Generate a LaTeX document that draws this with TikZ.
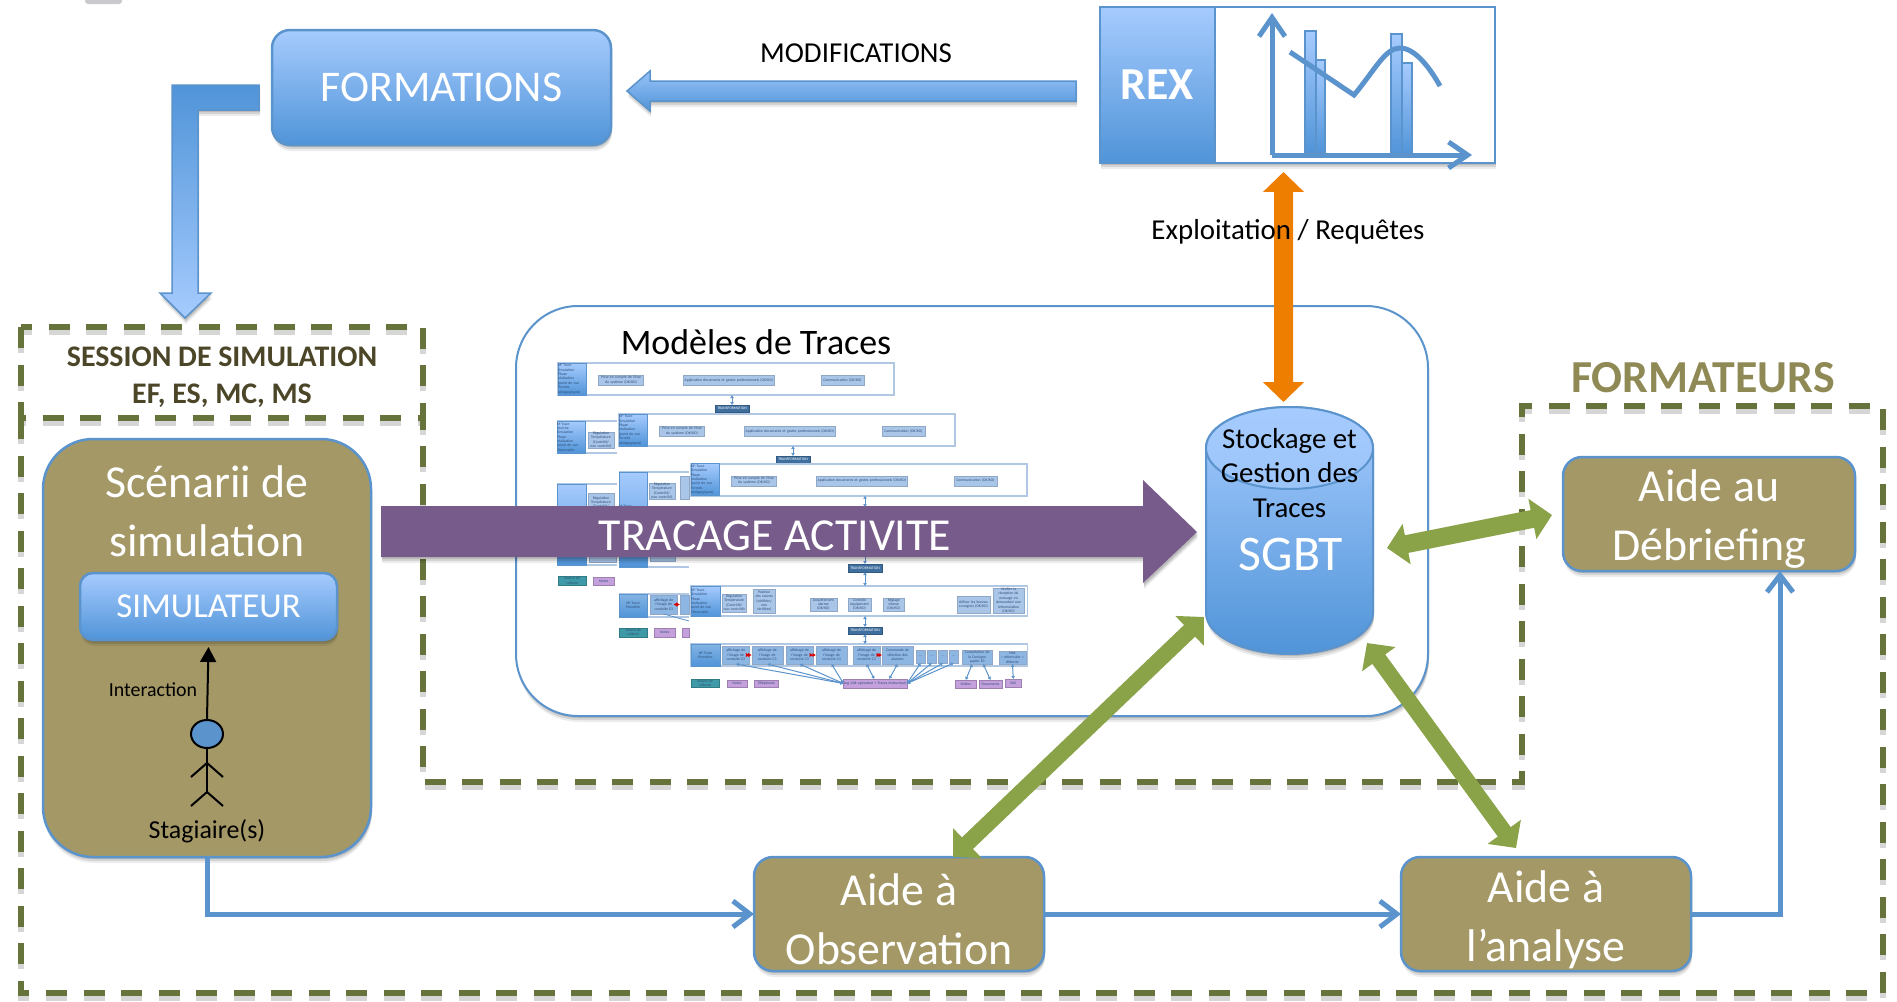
\documentclass[tikz,border=0pt]{standalone}
\usepackage{fontspec}
\setmainfont{Carlito}
\usetikzlibrary{arrows.meta,shadows,calc,shapes.geometric}
\newdimen\ux \ux=0.02cm
\newcommand{\fpx}[2]{\fontsize{\fpeval{#1*0.5669}pt}{\fpeval{#2*0.5669}pt}\selectfont}
\definecolor{bluehi}{HTML}{A6CBFE}
\definecolor{bluelo}{HTML}{5094D8}
\definecolor{blueline}{HTML}{5B93CC}
\definecolor{olive}{HTML}{A49866}
\definecolor{dashgreen}{HTML}{66733A}
\definecolor{arrowgreen}{HTML}{8AA349}
\definecolor{orangearrow}{HTML}{EE7E00}
\definecolor{purplearrow}{HTML}{775B8A}
\definecolor{sessiontext}{HTML}{4C4629}
\definecolor{formateur}{HTML}{8F8A55}
\definecolor{miniblue}{HTML}{A9C5E8}
\definecolor{miniframecol}{HTML}{B0C8E4}
\definecolor{minidark}{HTML}{3F6F9F}
\definecolor{miniteal}{HTML}{3D9AA6}
\definecolor{minipurple}{HTML}{C4A0DC}
\definecolor{minitext}{HTML}{2F4F78}
\tikzset{
  softshadow/.style={
    general shadow={shadow xshift=1\ux,shadow yshift=-2\ux,fill=black,opacity=.12},
    general shadow={shadow xshift=1\ux,shadow yshift=-4\ux,fill=black,opacity=.10},
    general shadow={shadow xshift=1\ux,shadow yshift=-6\ux,fill=black,opacity=.07}},
  basebox/.style={inner sep=0pt,outer sep=0pt,align=center,text=white,line width=2.5\ux,draw=blueline},
  bluebox/.style={basebox,softshadow,shade,top color=bluehi,bottom color=bluelo},
  olivebox/.style={basebox,softshadow,fill=olive},
  lighttext/.style={inner sep=0pt,outer sep=0pt,align=center,text=white},
  darktext/.style={inner sep=0pt,outer sep=0pt,align=center,text=black},
  dashbox/.style={line width=5.5\ux,draw=dashgreen,dash pattern=on 21\ux off 16.5\ux},
  dashshadow/.style={line width=5.5\ux,draw=black,opacity=.16,dash pattern=on 21\ux off 16.5\ux,yshift=-5\ux},
  greenarrow/.style={line width=16\ux,draw=arrowgreen,{Triangle[length=0.4cm,width=0.8cm]}-{Triangle[length=0.4cm,width=0.8cm]}},
  flow/.style={line width=5\ux,draw=blueline,-{Straight Barb[length=0.34cm,width=0.52cm]}},
  gradarrow/.style={draw=blueline,line width=1.5\ux,softshadow,shade},
  minibase/.style={inner sep=0pt,outer sep=0pt,align=center,text=minitext,font={\fpx{3.8}{4.4}}},
  miniframe/.style={minibase,draw=miniframecol,fill=white,line width=1.6\ux},
  minibox/.style={minibase,fill=miniblue,draw=miniblue!85!black,line width=.3\ux},
  minicell/.style={minibase,align=left,shade,top color=bluehi,bottom color=bluelo,draw=blueline,line width=.5\ux},
  minicellb/.style={minibase,shade,top color=bluelo!70,bottom color=bluelo,draw=blueline,line width=.5\ux},
  minidarkbox/.style={minibase,fill=minidark,draw=minidark!80!black,line width=.5\ux},
  minitealbox/.style={minibase,fill=miniteal,draw=miniteal!80!black,line width=.4\ux},
  minipurplebox/.style={minibase,fill=minipurple,draw=minipurple!80!black,line width=.4\ux},
  minilink/.style={draw=blueline,line width=1\ux,{Latex[length=0.06cm,width=0.08cm]}-{Latex[length=0.06cm,width=0.08cm]}},
  minired/.style={draw=red!85!black,line width=1\ux,{Latex[length=0.07cm,width=0.09cm]}-{Latex[length=0.07cm,width=0.09cm]}},
  stick/.style={draw=black,line width=2\ux}
}
% \mini{name}{style}{x1}{y1}{x2}{y2}{text}
\newcommand{\mini}[7]{%
  \pgfmathsetmacro\miniw{(#5)-(#3)}%
  \pgfmathsetmacro\minih{(#6)-(#4)}%
  \node[#2,minimum width=\miniw\ux,minimum height=\minih\ux,text width=\miniw\ux] (#1) at ({((#3)+(#5))/2},{((#4)+(#6))/2}) {#7};}
\newcommand{\miniopen}[5]{%
  \mini{#1}{miniframe,draw=none}{#2}{#3}{#4}{#5}{}
  \draw[draw=miniframecol,line width=1.6\ux] (#1.north west) -- (#1.north east) (#1.south west) -- (#1.south east);}
\newcommand{\celltext}{NF-Trace\\Simulation\\Phase\\réalisation\\(point de vue\\Formés\\pédagogiques)}
\newcommand{\minilayer}[3]{%
  \mini{#1f}{miniframe}{558+#2}{363+#3}{894+#2}{395+#3}{}
  \mini{#1c}{minicell}{558+#2}{363+#3}{586.5+#2}{395+#3}{\celltext}
  \mini{#1a}{minibox}{598.6+#2}{375+#3}{643.4+#2}{385+#3}{Prise en compte de l'état\\du système (OK/KO)}
  \mini{#1b}{minibox}{683+#2}{375+#3}{774.5+#2}{385+#3}{Application documents et gestes professionnels (OK/KO)}
  \mini{#1d}{minibox}{820.7+#2}{375+#3}{864+#2}{385+#3}{Communication (OK/KO)}}
\begin{document}
\begin{tikzpicture}[x=0.02cm,y=-0.02cm]
\useasboundingbox (0,0) rectangle (1897,1001);
\fill[white] (0,0) rectangle (1897,1001);
\begin{scope}
\clip (0,0) rectangle (1897,1001);
\fill[rounded corners=3\ux,fill=black!5!blue!5!gray!40] (85,-6) rectangle (122,4);
\end{scope}

% dashed frames
\draw[dashshadow] (21,327) rectangle (423,418);
\draw[dashshadow] (21,418) -- (21,993) -- (1883,993) -- (1883,406) -- (1522,406) -- (1522,782) -- (423,782) -- (423,418);
\draw[dashbox] (21,327) rectangle (423,418);
\draw[dashbox] (21,418) -- (21,993) -- (1883,993) -- (1883,406) -- (1522,406) -- (1522,782) -- (423,782) -- (423,418);
\node[inner sep=0pt,outer sep=0pt,align=center,text=sessiontext,font={\fpx{30}{37}\bfseries}] (session) at (222,377.5) {SESSION DE SIMULATION\\EF, ES, MC, MS};
\node[inner sep=0pt,outer sep=0pt,text=formateur,font={\fpx{46}{50}\bfseries}] (formateurs) at (1703,378) {FORMATEURS};

% panel of trace models
\node[basebox,softshadow,fill=white,line width=2\ux,rounded corners=62\ux,minimum width=912\ux,minimum height=410\ux] (panel) at (972,511) {};
\node[darktext,font={\fpx{36}{40}}] (modeles) at (756,342) {Modèles de Traces};

% miniature diagram
\minilayer{la}{0}{0}
\mini{ta}{minidarkbox,text=white}{715}{405}{749}{412}{TRANSFORMATION}
\draw[minilink] (laf.south -| ta.north) -- (ta.north);
% left partial blocks
\miniopen{pa}{557}{421}{617}{453}
\mini{pac}{minicell}{557}{421}{585.5}{453}{M-Trace\\séniche\\Simulation\\Phase\\réalisation\\(point de vue\\Observable}
\mini{pab}{minibox}{588}{432}{614}{448}{Régulation\\Température\\(Contrôlé/\\non contrôlé)}
\miniopen{pb}{557}{484}{617}{565}
\mini{pbc}{minicell}{557}{484}{586}{565}{NF-Trace\\Simulation\\Phase\\réalisation}
\mini{pbb}{minibox}{588}{493}{614}{512}{Régulation\\Température\\(Contrôlé/}
\mini{pbd}{minibox}{589}{545}{616}{562}{}
\mini{pbt}{minitealbox}{558}{576}{586.5}{585}{Source de\\collecte}
\mini{pbn}{minipurplebox}{593.5}{577}{614}{585}{Notes}
\minilayer{lb}{61}{51}
\mini{tb}{minidarkbox,text=white}{776}{456}{810}{463}{TRANSFORMATION}
\draw[minilink] (lbf.south -| tb.north) -- (tb.north);
\miniopen{pc}{619}{472}{689}{567}
\mini{pcc}{minicell}{619}{472}{647}{567}{M-Trace\\séniche\\Simulation\\Phase\\réalisation\\point de vue\\Observable}
\mini{pcb}{minibox}{649}{483}{675}{499}{Régulation\\Température\\(Contrôlé/\\non contrôlé)}
\mini{pcd}{minibox}{680}{476}{689}{499}{}
\mini{pce}{minibox}{650}{548}{675}{561}{}
\miniopen{pd}{619}{594}{689}{617}
\mini{pdc}{minicellb}{619}{594}{647}{617}{NF-Trace\\Première}
\mini{pda}{minibox,fill=miniblue!70!bluelo}{650}{595}{677.6}{614}{affichage de\\l'image de\\conduite E3}
\mini{pde}{minibox,fill=miniblue!70!bluelo}{680}{595}{689}{614}{}
\draw[minired] ([xshift=-4\ux]pda.east) -- (pde.west);
\coordinate (pdend) at (689,621);
\draw[draw=blueline,line width=.8\ux] (pda.south) -- (pdend);
\mini{pdt}{minitealbox}{619}{628}{647.6}{637}{Source de\\collecte}
\mini{pdn}{minipurplebox}{654.5}{628}{675}{637}{Notes}
\mini{pdm}{minipurplebox}{682}{628}{689}{637}{}
\minilayer{lc}{133}{100.7}
\mini{tc}{minidarkbox,text=white}{848}{507}{882}{514}{TRANSFORMATION}
\draw[minilink] (lcf.south -| tc.north) -- (tc.north);
\mini{td}{minidarkbox,text=white}{848}{564}{882}{572}{TRANSFORMATION}
\draw[minilink] (tc.south) -- (td.north);
\mini{ld}{miniframe}{691}{586}{1027.6}{616}{}
\mini{ldc}{minicell}{691}{586}{720}{616}{NF-Trace\\Simulation\\Phase\\réalisation\\point de vue\\Observable}
\mini{lda}{minibox}{722}{594}{746.5}{612}{Régulation\\Température\\(Contrôlé/\\non contrôlé)}
\mini{ldb}{minibox}{753}{589}{775.5}{613}{Position\\des vannes\\(vérifiées/\\non\\vérifiées)}
\mini{ldd}{minibox}{809.7}{598}{837}{611}{Acquittement\\alarme\\(OK/KO)}
\mini{lde}{minibox}{848}{598}{871}{611}{Contrôle\\équipement\\(OK/KO)}
\mini{ldf}{minibox}{883}{598}{904.5}{611}{Réglage\\vitesse\\(OK/KO)}
\mini{ldg}{minibox}{957}{596}{989.7}{613}{Utiliser les bonnes\\consignes (OK/KO)}
\mini{ldh}{minibox}{993}{588}{1024}{613}{Vérifier la\\réception du\\message en\\demandant une\\reformulation\\(OK/KO)}
\draw[minilink] (td.south) -- (td.south |- ld.north);
\mini{te}{minidarkbox,text=white}{848}{627}{882}{634}{TRANSFORMATION}
\draw[minilink] (ld.south -| te.north) -- (te.north);
\mini{le}{miniframe}{691}{644}{1027.6}{666}{}
\draw[minilink] (te.south) -- (te.south |- le.north);
\mini{lec}{minicellb}{691}{644}{720}{666}{NF-Trace\\Première}
\mini{ea}{minibox,fill=miniblue!70!bluelo}{722.4}{646}{749.3}{664}{affichage de\\l'image de\\conduite E3}
\mini{eb}{minibox,fill=miniblue!70!bluelo}{751.7}{646}{782.8}{664}{affichage de\\l'image de\\conduite C3}
\mini{ec}{minibox,fill=miniblue!70!bluelo}{786}{646}{813}{664}{affichage de\\l'image de\\conduite C3}
\mini{ed}{minibox,fill=miniblue!70!bluelo}{816}{646}{847}{664}{affichage de\\l'image de\\conduite C4}
\mini{ee}{minibox,fill=miniblue!70!bluelo}{853}{646}{880}{664}{affichage de\\l'image de\\conduite C3}
\mini{ef}{minibox,fill=miniblue!70!bluelo}{882}{646}{913}{664}{Commande de\\sélection des\\alarmes}
\mini{eg}{minibox,fill=miniblue!70!bluelo}{916.5}{650}{925}{663}{...}
\mini{eh}{minibox,fill=miniblue!70!bluelo}{927.6}{650}{936}{663}{...}
\mini{ei}{minibox,fill=miniblue!70!bluelo}{938.6}{650}{947.6}{663}{...}
\mini{ej}{minibox,fill=miniblue!70!bluelo}{949.6}{650}{958}{663}{...}
\mini{ek}{minibox,fill=miniblue!70!bluelo}{962}{650}{992.4}{664}{Consultation de\\la Consigne\\papier E3}
\mini{el}{minibox,fill=miniblue!70!bluelo}{999}{651}{1026}{664}{Mot\\« reformuler »\\détecter}
\draw[minired] (ea.east) -- (eb.west);
\draw[minired] (ec.east) -- (ed.west);
\draw[minired] (ee.east) -- (ef.west);
\mini{st}{minitealbox}{691}{679}{719}{687}{Source de\\collecte}
\mini{sa}{minipurplebox}{727}{680}{747}{687}{Notes}
\mini{sb}{minipurplebox}{754.5}{680}{778}{687}{Téléphonie}
\mini{log}{minipurplebox}{843.5}{679}{907}{688}{Log (clik opérateur + Traces instructeur)}
\mini{sc}{minipurplebox}{955.5}{680}{976}{688}{Vidéos}
\mini{sd}{minipurplebox}{979}{680}{1002}{688}{Documents}
\mini{se}{minipurplebox}{1005.5}{679}{1021}{687}{SAV}
\foreach \b in {ea,eb,ec,ed}{\draw[minilink] (\b.south) -- (log.west);}
\draw[minilink] (ee.south) -- ([xshift=-1\ux]log.north);
\draw[minilink] (ef.south) -- ([xshift=14\ux]log.north);
\foreach \b in {eg,eh,ei,ej}{\draw[minilink] (\b.south) -- (log.east);}
\draw[minilink] ([xshift=-5\ux]ek.south) -- (sc.north);
\draw[minilink] ([xshift=6\ux]ek.south) -- (sd.north);
\draw[minilink] (el.south) -- (se.north);

% main boxes
\node[bluebox,rounded corners=18\ux,minimum width=339\ux,minimum height=115\ux,font={\fpx{44}{50}}] (formations) at (441.5,87.5) {FORMATIONS};
\node[basebox,softshadow,fill=white,minimum width=280\ux,minimum height=156\ux] (rexpanel) at (1355,85) {};
\node[bluebox,font={\fpx{46}{50}\bfseries},minimum width=115\ux,minimum height=156\ux] (rex) at (1157.5,85) {REX};

% REX chart
\foreach \xa/\ya/\xb/\yb in {1305/31/1316/153,1316/60/1325/153,1391/34/1402/155,1402/63/1412/155}{
  \path[shade,top color=bluehi,bottom color=bluelo,draw=blueline,line width=2\ux] (\xa,\ya) rectangle (\xb,\yb);}
\coordinate (chartorigin) at (1272,155);
\coordinate (charttop) at (1272,13);
\coordinate (chartright) at (1472,155);
\draw[line width=5\ux,draw=blueline,-{Straight Barb[length=0.38cm,width=0.52cm]}] (chartorigin) -- (charttop);
\draw[line width=5\ux,draw=blueline,-{Straight Barb[length=0.38cm,width=0.52cm]}] (chartorigin) -- (chartright);
\draw[draw=blueline,line width=5\ux] (1290,52) -- (1354,95) .. controls (1375,70) and (1385,48) .. (1400,48) .. controls (1415,48) and (1430,68) .. (1440,86);

% arrows between the top boxes
\coordinate (modtip) at ([xshift=16\ux,yshift=-3.5\ux]formations.east);
\path[gradarrow,top color=bluehi!85!bluelo,bottom color=bluelo] (modtip) -- ++(23,-20) -- ++(0,10) -- ++(426,0) -- ++(0,20) -- ++(-426,0) -- ++(0,10) -- cycle;
\node[darktext,font={\fpx{29}{32}}] (modif) at (856,53) {MODIFICATIONS};
\coordinate (ltail) at ([xshift=-13\ux,yshift=2.5\ux]formations.west);
\path[gradarrow,top color=bluelo,bottom color=bluehi] (ltail) -- ++(-87,0) -- ++(0,208) -- ++(-12,0) -- ++(25,25) -- ++(26,-25) -- ++(-13,0) -- ++(0,-183) -- ++(61,0) -- cycle;

% scenario box
\node[olivebox,rounded corners=50\ux,minimum width=328\ux,minimum height=418\ux] (scn) at (207,648) {};
\node[lighttext,font={\fpx{46}{59}}] (scntext) at (207,511.5) {Scénarii de\\simulation};
\node[bluebox,rounded corners=13\ux,minimum width=257\ux,minimum height=67\ux,font={\fpx{35}{40}}] (sim) at (208.5,606.5) {SIMULATEUR};
\node[ellipse,draw=black,line width=2\ux,fill=blueline,inner sep=0pt,minimum width=32\ux,minimum height=28\ux] (head) at (207,734) {};
\coordinate (neck) at (207,763);
\coordinate (hip) at (207,792);
\draw[stick,-{Triangle[length=0.3cm,width=0.32cm]}] (head.north) -- ([yshift=-7\ux]sim.south);
\draw[stick] (head.south) -- (hip);
\draw[stick] (neck) -- ++(-16,14) (neck) -- ++(16,14) (hip) -- ++(-16,14) (hip) -- ++(16,14);
\node[darktext,font={\fpx{20}{24}}] (inter) at (153,690) {Interaction};
\node[darktext,font={\fpx{26}{30}}] (stag) at (207,831) {Stagiaire(s)};

% aid boxes
\node[olivebox,rounded corners=19\ux,minimum width=290\ux,minimum height=114\ux] (obs) at (899,914) {};
\node[olivebox,rounded corners=19\ux,minimum width=290\ux,minimum height=114\ux] (ana) at (1546,914) {};
\node[olivebox,rounded corners=19\ux,minimum width=292\ux,minimum height=114\ux] (deb) at (1709,514) {};

% flow lines
\coordinate (flowcorner) at (207,914);
\coordinate (flowcornerb) at (1780,914);
\draw[flow] (scn.south) -- (flowcorner) -- (obs.west);
\draw[flow] (obs.east) -- (ana.west);
\draw[flow] (ana.east) -- (flowcornerb) -- (flowcornerb |- deb.south);
\node[lighttext,font={\fpx{46}{59}}] (obstext) at (899,919.5) {Aide à\\Observation};
\node[lighttext,font={\fpx{46}{59}}] (anatext) at (1546,919.5) {Aide à\\l’analyse};
\node[lighttext,font={\fpx{46}{59}}] (debtext) at (1709,519) {Aide au\\Débriefing};

% purple arrow
\coordinate (ptail) at ([xshift=10\ux,yshift=142\ux]scn.east);
\path[softshadow,fill=purplearrow] (ptail) -- ++(762,0) -- ++(0,-26) -- ++(54,52) -- ++(-54,51) -- ++(0,-26) -- ++(-762,0) -- cycle;
\node[lighttext,font={\fpx{46}{50}}] (tracage) at (775,536) {TRACAGE ACTIVITE};

% database
\node[inner sep=0pt,outer sep=0pt,minimum width=167\ux,minimum height=247\ux] (sgbt) at (1289.5,530.5) {};
\path[softshadow,shade,top color=bluehi,bottom color=bluelo,draw=blueline,line width=2\ux] (1206,448) arc[start angle=180,end angle=0,x radius=83.5\ux,y radius=41\ux] -- (1373,613) arc[start angle=0,end angle=-180,x radius=83.5\ux,y radius=41\ux] -- cycle;
\path[shade,top color=bluehi,bottom color=bluehi!88!bluelo,draw=blueline,line width=2\ux] (1289.5,448) ellipse[x radius=83.5\ux,y radius=41\ux];
\node[darktext,font={\fpx{29}{34.5}}] (stock) at (1289.5,473) {Stockage et\\Gestion des\\Traces};
\node[lighttext,font={\fpx{50}{55}}] (sgbttext) at (1291,555) {SGBT};

% strong arrows
\draw[line width=19\ux,draw=orangearrow,{Triangle[length=0.4cm,width=0.8cm]}-{Triangle[length=0.4cm,width=0.8cm]}] ([xshift=-71.5\ux,yshift=-9\ux]rexpanel.south) -- ([xshift=-6\ux,yshift=5\ux]sgbt.north);
\node[darktext,font={\fpx{29}{32}}] (exploit) at (1288,232) {Exploitation / Requêtes};
\draw[greenarrow,line width=18\ux] ([xshift=14\ux,yshift=-17.5\ux]sgbt.east) -- ([yshift=-1\ux,xshift=-11\ux]deb.west);
\draw[greenarrow] ([xshift=54\ux]obs.north) -- ([xshift=-2\ux,yshift=-86.5\ux]sgbt.west);
\draw[greenarrow] ([xshift=-30\ux,yshift=9\ux]ana.north) -- ([xshift=-6\ux,yshift=-112.5\ux]sgbt.east);
\end{tikzpicture}
\end{document}
